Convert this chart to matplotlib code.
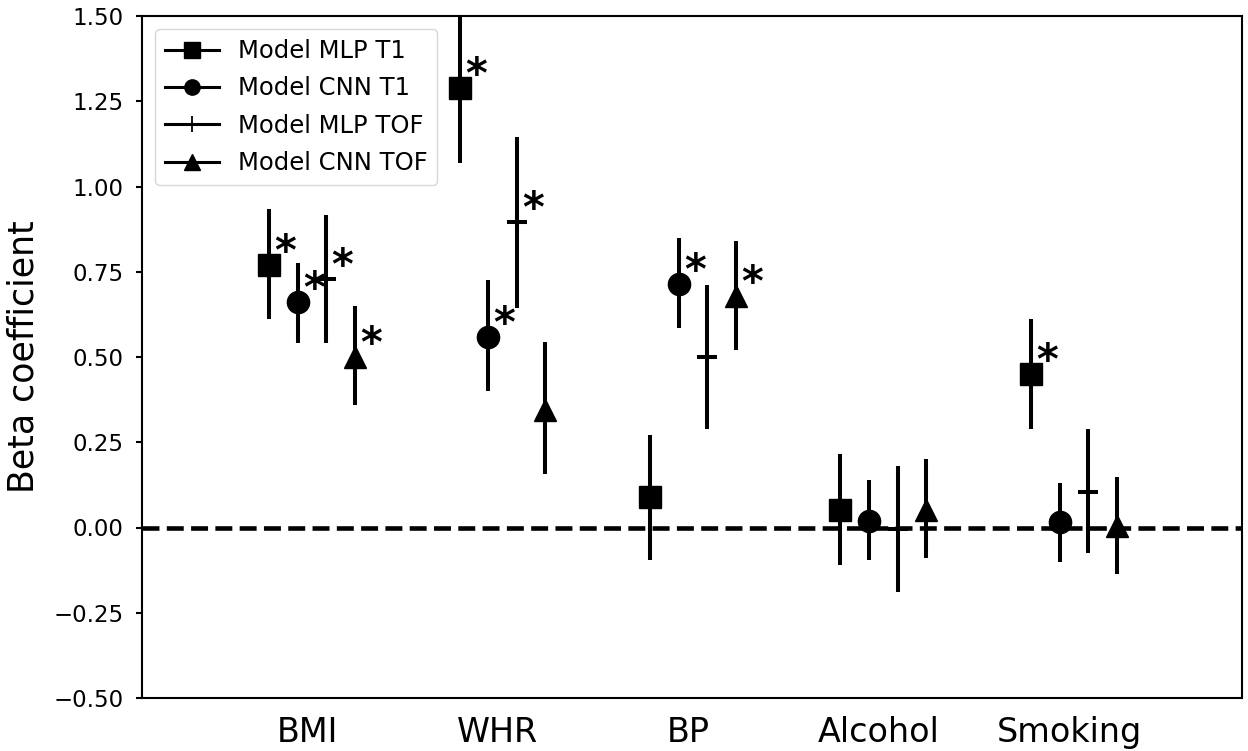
import matplotlib
matplotlib.use("Agg")
import matplotlib.pyplot as plt
from matplotlib.lines import Line2D
import numpy as np

categories = ['BMI', 'WHR', 'BP', 'Alcohol', 'Smoking']
series_names = ['Model MLP T1', 'Model CNN T1', 'Model MLP TOF', 'Model CNN TOF']

mlp_t1 = [0.77, 1.29, 0.09, 0.05, 0.45]
mlp_t1_lo = [0.61, 1.07, -0.094, -0.11, 0.29]
mlp_t1_hi = [0.935, 1.51, 0.27, 0.215, 0.61]
mlp_t1_sig = [1, 1, 0, 0, 1]

cnn_t1 = [0.66, 0.56, 0.715, 0.02, 0.015]
cnn_t1_lo = [0.54, 0.40, 0.585, -0.095, -0.10]
cnn_t1_hi = [0.775, 0.725, 0.85, 0.14, 0.13]
cnn_t1_sig = [1, 1, 1, 0, 0]

mlp_tof = [0.73, 0.895, 0.50, -0.005, 0.105]
mlp_tof_lo = [0.54, 0.645, 0.29, -0.19, -0.075]
mlp_tof_hi = [0.915, 1.145, 0.71, 0.18, 0.29]
mlp_tof_sig = [1, 1, 0, 0, 0]

cnn_tof = [0.50, 0.345, 0.68, 0.05, 0.005]
cnn_tof_lo = [0.36, 0.157, 0.52, -0.09, -0.135]
cnn_tof_hi = [0.65, 0.545, 0.84, 0.20, 0.148]
cnn_tof_sig = [1, 0, 1, 0, 0]

yticks = [-0.50, -0.25, 0.00, 0.25, 0.50, 0.75, 1.00, 1.25, 1.50]

series = [
    (mlp_t1, mlp_t1_lo, mlp_t1_hi, mlp_t1_sig, 's'),
    (cnn_t1, cnn_t1_lo, cnn_t1_hi, cnn_t1_sig, 'o'),
    (mlp_tof, mlp_tof_lo, mlp_tof_hi, mlp_tof_sig, '+'),
    (cnn_tof, cnn_tof_lo, cnn_tof_hi, cnn_tof_sig, '^'),
]
offsets = [0.0, 0.15, 0.30, 0.45]

fig = plt.figure(figsize=(12.48, 7.51), dpi=100)
ax = fig.add_axes([142/1248, 53/751, 1100/1248, 682/751])

base = np.arange(len(categories))
for (vals, lo, hi, sig, mk), off in zip(series, offsets):
    x = base + off
    vals = np.array(vals); lo = np.array(lo); hi = np.array(hi)
    ax.vlines(x, lo, hi, colors='black', linewidth=2.9, zorder=2)
    if mk == '+':
        ax.plot(x, vals, linestyle='none', marker='_', color='black',
                markersize=15, markeredgewidth=2.9, zorder=3)
    else:
        ax.plot(x, vals, linestyle='none', marker=mk, color='black',
                markersize=16, zorder=3)
    for xi, v, s in zip(x, vals, sig):
        if s:
            ax.text(xi + 0.085, v, '*', fontsize=30, fontweight='bold',
                    ha='center', va='baseline', color='black', zorder=4)

ax.axhline(0, color='black', linestyle='--', linewidth=3.3, zorder=1)

ax.set_xlim(-0.667, 5.108)
ax.set_ylim(-0.5, 1.5)
ax.set_yticks(yticks)
ax.set_yticklabels([f'{t:.2f}'.replace('-', '\u2212') for t in yticks])
ax.set_xticks(base + 0.2)
ax.set_xticklabels(categories, fontsize=24)
ax.tick_params(axis='x', length=0, pad=13)
ax.tick_params(axis='y', labelsize=16.5, length=4.5, width=1.5, pad=9)
for sp in ax.spines.values():
    sp.set_linewidth(1.5)
ax.set_ylabel('Beta coefficient', fontsize=25, labelpad=9)

handles = [
    Line2D([0], [0], color='black', lw=2.2, marker='s', markersize=11),
    Line2D([0], [0], color='black', lw=2.2, marker='o', markersize=11),
    Line2D([0], [0], color='black', lw=2.2, marker='+', markersize=11, markeredgewidth=1.3),
    Line2D([0], [0], color='black', lw=2.2, marker='^', markersize=11),
]
ax.legend(handles, series_names, loc='upper left', fontsize=17.5,
          frameon=True, fancybox=True, edgecolor='#cccccc',
          borderaxespad=0.55, handlelength=2.2, labelspacing=0.55)

fig.savefig('out.png', dpi=100)
